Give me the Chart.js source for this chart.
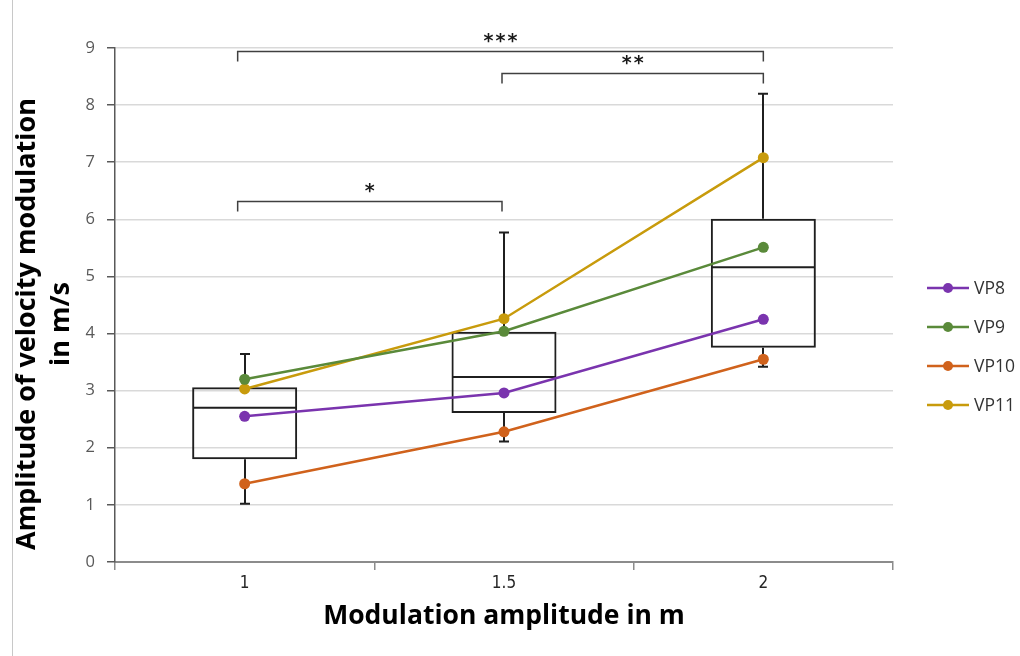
<!DOCTYPE html>
<html><head><meta charset="utf-8">
<script src="https://cdn.jsdelivr.net/npm/chart.js@4/dist/chart.umd.min.js"></script>
<style>html,body{margin:0;padding:0;background:#fff}#wrap{position:relative;width:1020px;height:656px}</style>
</head><body><div id="wrap"><canvas id="c"></canvas></div>
<script>
// ---- data ----
const categories = ['1', '1.5', '2'];
const vp8  = [2.55, 2.96, 4.25];
const vp9  = [3.20, 4.04, 5.51];
const vp10 = [1.37, 2.28, 3.55];
const vp11 = [3.03, 4.26, 7.08];
const whiskerLow  = [1.02, 2.11, 3.42];
const q1          = [1.80, 2.61, 3.75];
const median      = [2.70, 3.24, 5.16];
const q3          = [3.06, 4.03, 6.01];
const whiskerHigh = [3.64, 5.77, 8.20];
const yTicks = [0, 1, 2, 3, 4, 5, 6, 7, 8, 9];
const sigFrom  = [0, 1, 0];
const sigTo    = [2, 2, 1];
const sigLevel = [8.95, 8.57, 6.32];
const sigLabel = ['***', '**', '*'];
const seriesNames = ['VP8', 'VP9', 'VP10', 'VP11'];
const seriesData = [vp8, vp9, vp10, vp11];
const yTitleLines = ['Amplitude of velocity modulation', 'in m/s'];
const xTitle = 'Modulation amplitude in m';
// ---- styles ----
const seriesColors = ['#7A34AE', '#5A8A3A', '#D0621C', '#C89B0C'];
const FONT = "'Open Sans', 'Liberation Sans', sans-serif";
const BOX_INDEX = 4;

const boxPlugin = {
  id: 'boxExtras',
  afterDatasetDraw(chart, args) {
    if (args.index !== BOX_INDEX) return;
    const ctx = chart.ctx, y = chart.scales.y;
    const meta = chart.getDatasetMeta(BOX_INDEX);
    ctx.save();
    ctx.strokeStyle = '#1f1f1f';
    ctx.lineWidth = 2;
    meta.data.forEach((bar, i) => {
      const cx = Math.round(bar.x);
      const half = bar.width / 2;
      const yH = y.getPixelForValue(whiskerHigh[i]);
      const yL = y.getPixelForValue(whiskerLow[i]);
      const yQ1 = y.getPixelForValue(q1[i]);
      const yQ3 = y.getPixelForValue(q3[i]);
      const yM = y.getPixelForValue(median[i]);
      ctx.beginPath();
      ctx.moveTo(cx, yQ3); ctx.lineTo(cx, yH);
      ctx.moveTo(cx - 5, yH); ctx.lineTo(cx + 5, yH);
      ctx.moveTo(cx, yQ1); ctx.lineTo(cx, yL);
      ctx.moveTo(cx - 5, yL); ctx.lineTo(cx + 5, yL);
      ctx.moveTo(cx - half + 1, yM); ctx.lineTo(cx + half - 1, yM);
      ctx.stroke();
    });
    ctx.restore();
  }
};

const decorPlugin = {
  id: 'decor',
  beforeDraw(chart) {
    const ctx = chart.ctx;
    ctx.save();
    ctx.fillStyle = '#ffffff';
    ctx.fillRect(0, 0, chart.width, chart.height);
    ctx.strokeStyle = '#c8c8c8';
    ctx.lineWidth = 1;
    ctx.beginPath();
    ctx.moveTo(12.5, 0); ctx.lineTo(12.5, chart.height);
    ctx.stroke();
    ctx.restore();
  },
  afterDraw(chart) {
    const ctx = chart.ctx, x = chart.scales.x, y = chart.scales.y;
    ctx.save();
    // y-axis title (two centred lines, rotated)
    ctx.save();
    ctx.translate(0, 324);
    ctx.rotate(-Math.PI / 2);
    ctx.fillStyle = '#000';
    ctx.font = 'bold 27px ' + FONT;
    ctx.textAlign = 'center';
    ctx.textBaseline = 'middle';
    ctx.fillText(yTitleLines[0], 0, 27);
    ctx.fillText(yTitleLines[1], 0, 61);
    ctx.restore();
    // significance brackets
    const endAdj = [-7, -2, 0];
    ctx.strokeStyle = '#404040';
    ctx.lineWidth = 1.5;
    ctx.fillStyle = '#1a1a1a';
    ctx.font = "bold 19px 'DejaVu Sans', sans-serif";
    ctx.textAlign = 'center';
    ctx.textBaseline = 'alphabetic';
    for (let k = 0; k < sigLabel.length; k++) {
      const x1 = x.getPixelForValue(sigFrom[k]) + endAdj[sigFrom[k]];
      const x2 = x.getPixelForValue(sigTo[k]) + endAdj[sigTo[k]];
      const yy = Math.round(y.getPixelForValue(sigLevel[k])) + 0.5;
      ctx.beginPath();
      ctx.moveTo(x1, yy + 10); ctx.lineTo(x1, yy); ctx.lineTo(x2, yy); ctx.lineTo(x2, yy + 10);
      ctx.stroke();
      const n = sigLabel[k].length, cx = (x1 + x2) / 2;
      for (let j = 0; j < n; j++) {
        ctx.fillText('*', cx + (j - (n - 1) / 2) * 12, yy - 5);
      }
    }
    // legend
    ctx.font = '17.5px ' + FONT;
    ctx.textAlign = 'left';
    ctx.textBaseline = 'middle';
    for (let i = 0; i < seriesNames.length; i++) {
      const ly = 288 + i * 39;
      ctx.strokeStyle = seriesColors[i];
      ctx.lineWidth = 2.5;
      ctx.beginPath(); ctx.moveTo(927, ly); ctx.lineTo(969, ly); ctx.stroke();
      ctx.fillStyle = seriesColors[i];
      ctx.beginPath(); ctx.arc(948, ly, 5, 0, Math.PI * 2); ctx.fill();
      ctx.fillStyle = '#333333';
      ctx.fillText(seriesNames[i], 974, ly + 1);
    }
    ctx.restore();
  }
};

const datasets = seriesNames.map((name, i) => ({
  type: 'line',
  label: name,
  data: seriesData[i],
  borderColor: seriesColors[i],
  backgroundColor: seriesColors[i],
  borderWidth: 2.5,
  pointRadius: 5.5,
  pointHoverRadius: 5.5,
  pointBorderWidth: 0,
  tension: 0,
  order: 1
}));
datasets.push({
  type: 'bar',
  label: 'box',
  data: q1.map((v, i) => [v, q3[i]]),
  backgroundColor: 'rgba(255,255,255,0)',
  borderColor: '#1f1f1f',
  borderWidth: 2,
  borderSkipped: false,
  barPercentage: 0.405,
  categoryPercentage: 1,
  order: 10
});

new Chart(document.getElementById('c'), {
  data: { labels: categories, datasets },
  options: {
    responsive: true,
    maintainAspectRatio: false,
    animation: false,
    layout: { padding: { left: 0, top: 48, right: 127, bottom: 0 } },
    plugins: { legend: { display: false }, tooltip: { enabled: false } },
    scales: {
      x: {
        type: 'category',
        offset: true,
        grid: { offset: true, drawOnChartArea: false, drawTicks: true, tickLength: 8, tickColor: '#8c8c8c', lineWidth: 1.5 },
        border: { color: '#8c8c8c', width: 2 },
        ticks: { color: '#262626', font: { family: "'Liberation Sans Narrow', 'DejaVu Sans Condensed', " + FONT, size: 17 }, padding: 3 },
        title: { display: true, text: xTitle, color: '#000', font: { family: FONT, size: 26.5, weight: 'bold' }, padding: { top: 0, bottom: 24 } },
        afterFit(s) { s.height = 94; }
      },
      y: {
        min: 0, max: 9,
        afterBuildTicks(s) { s.ticks = yTicks.map(v => ({ value: v })); },
        grid: { color: '#d9d9d9', lineWidth: 1.5, tickColor: '#595959', tickLength: 8 },
        border: { color: '#595959', width: 1.5 },
        ticks: { color: '#595959', font: { family: FONT, size: 16.5 }, padding: 12 },
        title: { display: false },
        afterFit(s) { s.width = 115; }
      }
    }
  },
  plugins: [boxPlugin, decorPlugin]
});
</script>
</body></html>
